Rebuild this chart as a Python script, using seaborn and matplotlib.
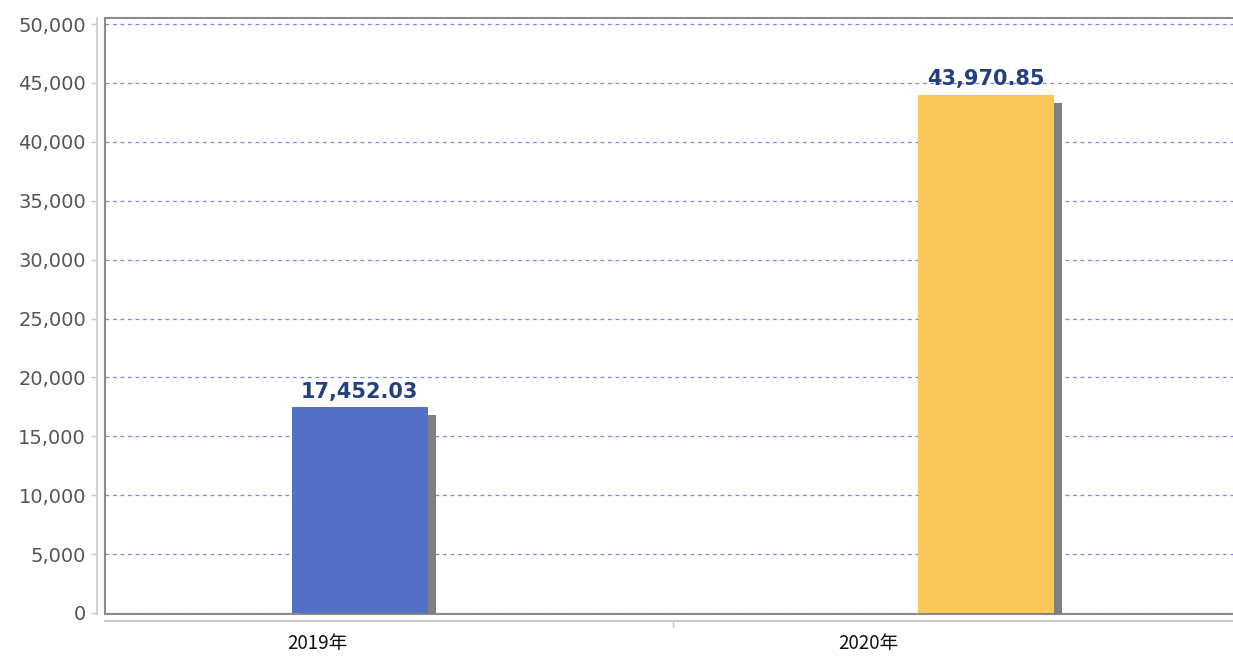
import matplotlib
matplotlib.use("Agg")
import matplotlib.pyplot as plt
import matplotlib.patheffects as pe
import seaborn as sns

# data
years = ["2019年", "2020年"]
values = [17452.03, 43970.85]
bar_colors = ["#5470C6", "#F9C859"]
y_ticks = list(range(0, 50001, 5000))

sns.set_theme(style="white")
plt.rcParams['font.family'] = ['DejaVu Sans', 'Noto Sans CJK SC']

fig = plt.figure(figsize=(12.33, 6.57), dpi=100)
ax = fig.add_axes([105/1233, 43/657, 1 - 105/1233, 596/657])

sns.barplot(x=years, y=values, hue=years, palette=bar_colors, legend=False,
            width=0.217, saturation=1, ax=ax, zorder=3)

# drop shadow on bars
for p in ax.patches:
    p.set_path_effects([pe.SimplePatchShadow(offset=(5.8, -5.8), shadow_rgbFace="#7f7f7f", alpha=1.0),
                        pe.Normal()])
    p.set_linewidth(0)

for c in ax.containers:
    ax.bar_label(c, labels=[f"{v:,.2f}" for v in c.datavalues], padding=4,
                 fontsize=15, fontweight="semibold", color="#24407e", zorder=5)

ax.set_xlim(-0.407, 1.395)
ax.set_ylim(-85, 50510)

# grid
ax.set_yticks(y_ticks)
ax.yaxis.grid(True, color="#8080ff", linestyle=(0, (3, 3)), linewidth=0.9, zorder=0)
ax.tick_params(axis="y", length=0, labelleft=False)
ax.tick_params(axis="x", length=0, labelbottom=False)
ax.set_xticks([])

for s in ["left", "top", "bottom"]:
    ax.spines[s].set_color("#8c8c8c")
    ax.spines[s].set_linewidth(1.5)
ax.spines["right"].set_visible(False)

# offset y axis with tick labels
yax = ax.secondary_yaxis(-8/1128)
yax.set_yticks(y_ticks)
yax.set_yticklabels([f"{t:,}" for t in y_ticks])
yax.spines["left"].set_color("#c8c8c8")
yax.spines["left"].set_linewidth(1.2)
yax.tick_params(axis="y", length=4, width=1, color="#c8c8c8", labelsize=14,
                labelcolor="#555555", pad=4)

# offset x axis with category labels
xax = ax.secondary_xaxis(-7/596)
xax.set_xticks([-0.067, 1 - 0.188])
xax.set_xticklabels(years)
xax.set_xticks([0.5], minor=True)
xax.spines["bottom"].set_color("#c8c8c8")
xax.spines["bottom"].set_linewidth(1.5)
xax.tick_params(axis="x", which="major", length=0, labelsize=13.5, labelcolor="#111111", pad=9)
xax.tick_params(axis="x", which="minor", length=4, width=1, color="#c8c8c8")
for t in xax.get_xticklabels():
    t.set_family(['Noto Sans CJK SC', 'DejaVu Sans'])

fig.savefig("out.png", dpi=100)
